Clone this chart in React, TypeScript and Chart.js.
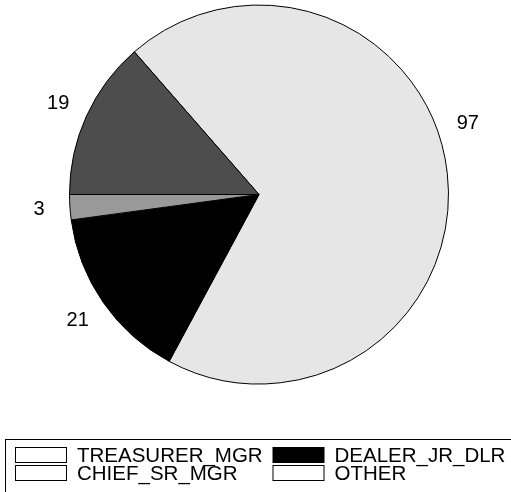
import React, { useEffect, useRef } from "react";
import { Chart, registerables } from "chart.js";

Chart.register(...registerables);

const categories = ["TREASURER_MGR", "DEALER_JR_DLR", "CHIEF_SR_MGR", "OTHER"];
const values = [97, 21, 3, 19];
const sliceColors = ["#E6E6E6", "#000000", "#999999", "#4D4D4D"];
const legendColors = ["#FFFFFF", "#000000", "#FFFFFF", "#FFFFFF"];

const FONT = "'Liberation Sans', Arial, sans-serif";

const labelPlugin = {
  id: "sliceLabels",
  afterDatasetsDraw(chart: any, _args: any, opts: any) {
    const ctx = chart.ctx;
    const meta = chart.getDatasetMeta(0);
    const shifts: number[] = opts.angleShift || [];
    ctx.save();
    ctx.font = `20px ${FONT}`;
    ctx.fillStyle = "#000";
    ctx.textAlign = "center";
    ctx.textBaseline = "middle";
    meta.data.forEach((arc: any, i: number) => {
      const p = arc.getProps(["x", "y", "startAngle", "endAngle", "outerRadius"], true);
      const mid = (p.startAngle + p.endAngle) / 2 + ((shifts[i] || 0) * Math.PI) / 180;
      const d = p.outerRadius + opts.offset;
      ctx.fillText(String(values[i]), p.x + Math.cos(mid) * d, p.y + Math.sin(mid) * d);
    });
    ctx.restore();
  },
};

const legendPlugin = {
  id: "boxLegend",
  afterDraw(chart: any) {
    const ctx = chart.ctx;
    ctx.save();
    ctx.strokeStyle = "#000";
    ctx.lineWidth = 1;
    ctx.strokeRect(5.5, 439.5, 600, 100);
    ctx.font = `20.5px ${FONT}`;
    ctx.textBaseline = "middle";
    ctx.textAlign = "left";
    categories.forEach((name, i) => {
      const col = i % 2;
      const row = Math.floor(i / 2);
      const bx = 15.5 + col * 257.5;
      const by = 447.5 + row * 18;
      ctx.fillStyle = legendColors[i];
      ctx.fillRect(bx, by, 51, 15);
      ctx.strokeRect(bx, by, 51, 15);
      ctx.fillStyle = "#000";
      ctx.fillText(name, bx + 61.5, by + 8.5);
    });
    ctx.restore();
  },
};

export default function App() {
  const ref = useRef<HTMLCanvasElement>(null);
  useEffect(() => {
    if (!ref.current) return;
    const chart = new Chart(ref.current, {
      type: "pie",
      data: {
        labels: categories,
        datasets: [
          {
            data: values,
            backgroundColor: sliceColors,
            borderColor: "#000000",
            borderWidth: 1,
          },
        ],
      },
      options: {
        animation: false,
        responsive: false,
        rotation: -41.14,
        layout: { padding: { left: 69, right: 62, top: 4.5, bottom: 107.5 } },
        plugins: {
          legend: { display: false },
          tooltip: { enabled: false },
          sliceLabels: { offset: 31, angleShift: [-12.3, 0, 0, 0] },
        } as any,
      },
      plugins: [labelPlugin, legendPlugin],
    });
    return () => chart.destroy();
  }, []);
  return (
    <div style={{ position: "absolute", left: 0, top: 0, width: 511, height: 492, background: "#fff" }}>
      <canvas ref={ref} width={511} height={492} style={{ width: 511, height: 492, display: "block" }} />
    </div>
  );
}
